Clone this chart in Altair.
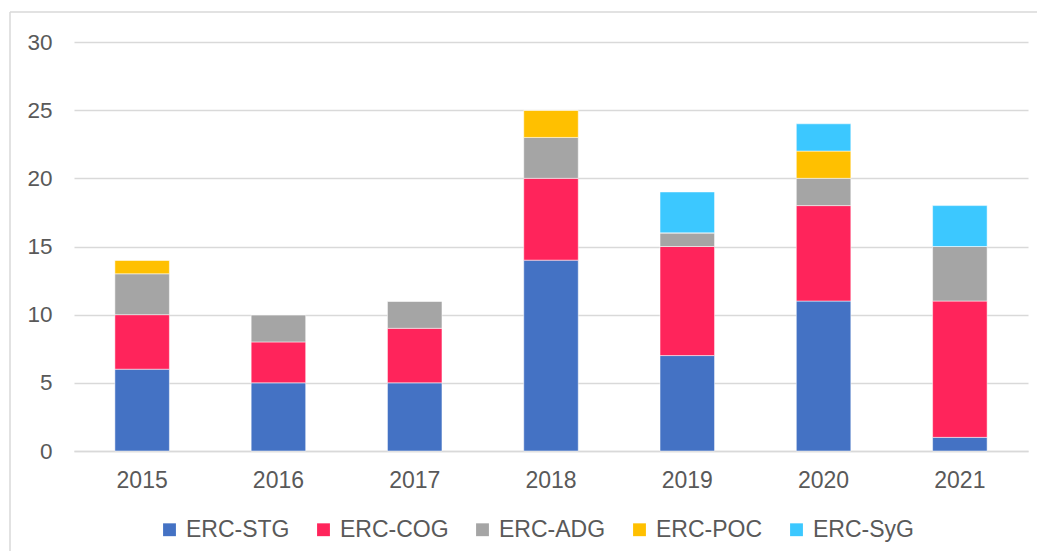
import altair as alt
import pandas as pd

years = ["2015", "2016", "2017", "2018", "2019", "2020", "2021"]
series = ["ERC-STG", "ERC-COG", "ERC-ADG", "ERC-POC", "ERC-SyG"]
stg = [6, 5, 5, 14, 7, 11, 1]
cog = [4, 3, 4, 6, 8, 7, 10]
adg = [3, 2, 2, 3, 1, 2, 4]
poc = [1, 0, 0, 2, 0, 2, 0]
syg = [0, 0, 0, 0, 3, 2, 3]
colors = ["#4472C4", "#FF245B", "#A5A5A5", "#FFC000", "#3CC8FF"]

rows = []
for si, (name, vals) in enumerate(zip(series, [stg, cog, adg, poc, syg])):
    for y, v in zip(years, vals):
        rows.append({"year": y, "series": name, "value": v, "idx": si})
df = pd.DataFrame(rows)

FONT = "Liberation Sans"
GRAY = "#595959"

bars = alt.Chart(df).mark_bar(stroke="white", strokeWidth=0.5).encode(
    x=alt.X("year:N", sort=years, title=None,
            scale=alt.Scale(paddingInner=0.6, paddingOuter=0.3),
            axis=alt.Axis(labelAngle=0, labelFontSize=23, labelColor=GRAY,
                          labelFont=FONT, labelPadding=18, ticks=False,
                          domainColor="#d9d9d9", domainWidth=1.5, grid=False)),
    y=alt.Y("value:Q", title=None, stack="zero",
            scale=alt.Scale(domain=[0, 30], nice=False),
            axis=alt.Axis(values=[0, 5, 10, 15, 20, 25, 30], domain=False, ticks=False,
                          labelFontSize=22.5, labelColor=GRAY, labelFont=FONT,
                          labelPadding=22, gridColor="#d9d9d9", gridWidth=1.5)),
    color=alt.Color("series:N", sort=series, title=None,
                    scale=alt.Scale(domain=series, range=colors),
                    legend=alt.Legend(orient="none", direction="horizontal",
                                      legendX=84, legendY=476,
                                      symbolType="square", symbolSize=165,
                                      symbolStrokeWidth=0,
                                      labelFontSize=23, labelColor=GRAY,
                                      labelFont=FONT, columnPadding=22,
                                      labelOffset=5)),
    order=alt.Order("idx:Q", sort="ascending"),
)

frame_v = alt.Chart(alt.Data(values=[{}])).mark_rule(color="#d9d9d9", strokeWidth=1.5).encode(
    x=alt.value(-64), y=alt.value(-30), y2=alt.value(520))
frame_h = alt.Chart(alt.Data(values=[{}])).mark_rule(color="#d9d9d9", strokeWidth=1.5).encode(
    x=alt.value(-64), x2=alt.value(1000), y=alt.value(-30))

chart = alt.layer(frame_v, frame_h, bars).properties(
    width=954, height=409,
    autosize=alt.AutoSizeParams(type="none"),
    padding={"left": 66, "top": 34, "right": 9, "bottom": 100},
).configure_view(stroke=None)

chart.save("out.html", embed_options={"renderer": "svg", "actions": False})
